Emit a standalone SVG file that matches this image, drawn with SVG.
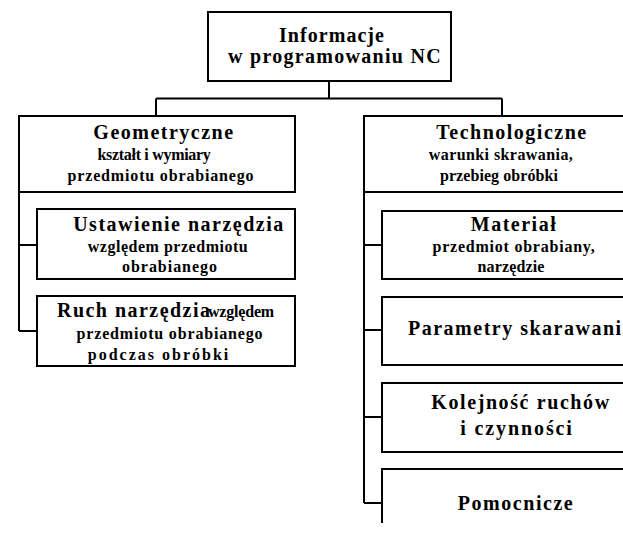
<svg xmlns="http://www.w3.org/2000/svg" width="623" height="534" viewBox="0 0 623 534">
  <style>
    .box { fill: #fff; stroke: #000; stroke-width: 2; }
    .edge { fill: none; stroke: #000; stroke-width: 2; }
    text { fill: #000; font-family: "Liberation Serif", "Times New Roman", serif; font-weight: bold; text-anchor: middle; }
    .h { font-size: 20px; letter-spacing: 1.5px; }
    .s { font-size: 16px; letter-spacing: 0.5px; }
    .l { text-anchor: start; }
  </style>

  <rect width="623" height="534" fill="#fff"/>

  <!-- connectors -->
  <g id="connectors" class="edge">
    <path d="M329,81 V98.5 M156,98.5 H502 M156,98.5 V116 M502,98.5 V116"/>
    <path d="M19,192 V331 M19,245 H37 M19,331 H37"/>
    <path d="M364,192 V503 M364,245 H382 M364,330 H382 M364,417 H382 M364,503 H382"/>
  </g>

  <!-- root -->
  <g id="root">
    <rect class="box" x="208" y="12" width="243" height="69"/>
    <text class="h" x="332" y="42" style="letter-spacing:1.05px">Informacje</text>
    <text class="h" x="335" y="63" style="letter-spacing:1.3px">w programowaniu NC</text>
  </g>

  <!-- geometric branch -->
  <g id="geometryczne">
    <rect class="box" x="19" y="116" width="276" height="76"/>
    <text class="h" x="164" y="139">Geometryczne</text>
    <text class="s" x="154" y="160" style="letter-spacing:-0.3px">kształt i wymiary</text>
    <text class="s" x="161" y="181" style="letter-spacing:0.84px">przedmiotu obrabianego</text>
  </g>

  <g id="ustawienie">
    <rect class="box" x="37" y="209" width="258" height="70"/>
    <text class="h" x="179" y="231">Ustawienie narzędzia</text>
    <text class="s" x="168" y="252" style="letter-spacing:0.52px">względem przedmiotu</text>
    <text class="s" x="170" y="272" style="letter-spacing:0.97px">obrabianego</text>
  </g>

  <g id="ruch">
    <rect class="box" x="37" y="296" width="258" height="70"/>
    <text class="h l" x="57" y="317" style="letter-spacing:1.47px">Ruch narzędzia</text>
    <text class="s l" x="208" y="317" style="letter-spacing:-0.2px">względem</text>
    <text class="s" x="170" y="339" style="letter-spacing:0.84px">przedmiotu obrabianego</text>
    <text class="s" x="159" y="360" style="letter-spacing:2px">podczas obróbki</text>
  </g>

  <!-- technological branch -->
  <g id="technologiczne">
    <rect class="box" x="364" y="116" width="290" height="76"/>
    <text class="h" x="512" y="139">Technologiczne</text>
    <text class="s" x="501" y="160" style="letter-spacing:0.42px">warunki skrawania,</text>
    <text class="s" x="499" y="181" style="letter-spacing:0.07px">przebieg obróbki</text>
  </g>

  <g id="material">
    <rect class="box" x="382" y="211" width="270" height="68"/>
    <text class="h" x="514" y="231">Materiał</text>
    <text class="s" x="514" y="252" style="letter-spacing:0.77px">przedmiot obrabiany,</text>
    <text class="s" x="511" y="272" style="letter-spacing:0.15px">narzędzie</text>
  </g>

  <g id="parametry">
    <rect class="box" x="382" y="297" width="270" height="68"/>
    <text class="h l" x="408" y="335">Parametry skarawania</text>
  </g>

  <g id="kolejnosc">
    <rect class="box" x="382" y="383" width="270" height="69"/>
    <text class="h" x="521" y="409" style="letter-spacing:1.6px">Kolejność ruchów</text>
    <text class="h" x="517" y="435" style="letter-spacing:1.9px">i czynności</text>
  </g>

  <g id="pomocnicze">
    <path class="edge" d="M652,469 H382 V523"/>
    <text class="h" x="516" y="510" style="letter-spacing:1.55px">Pomocnicze</text>
  </g>
</svg>
